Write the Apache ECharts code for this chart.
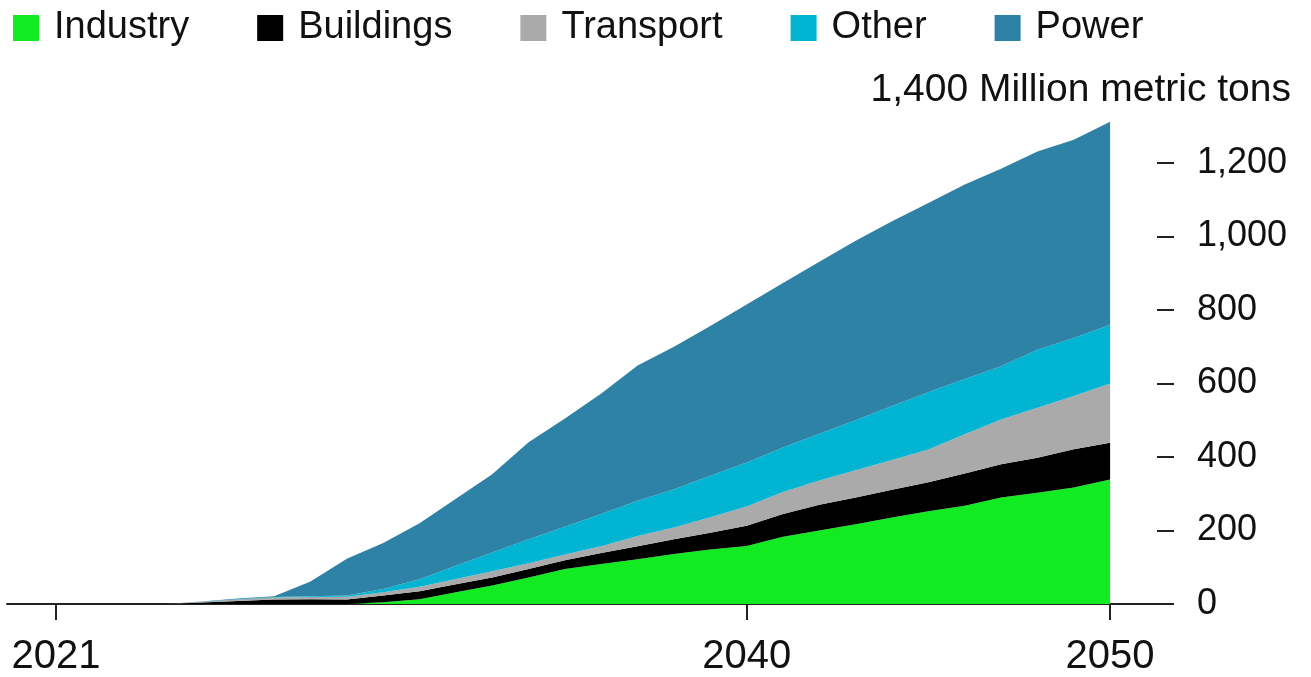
<!DOCTYPE html>
<html>
<head>
<meta charset="utf-8">
<script src="https://cdn.jsdelivr.net/npm/echarts@6/dist/echarts.min.js"></script>
<style>
	html, body { margin: 0; padding: 0; background: #fff; }
	#chart { width: 1311px; height: 677px; }
</style>
</head>
<body>
<div id="chart"></div>
<script>
// years 2021 .. 2050
const years = [
	2021, 2022, 2023, 2024, 2025, 2026, 2027, 2028, 2029, 2030,
	2031, 2032, 2033, 2034, 2035, 2036, 2037, 2038, 2039, 2040,
	2041, 2042, 2043, 2044, 2045, 2046, 2047, 2048, 2049, 2050
];
const industry = [0, 0, 0, 0, 0, 0, 0, 0, 0, 5, 13, 32, 50, 72, 95, 109, 122, 136, 148, 158, 183, 200, 217, 235, 252, 267, 290, 303, 317, 339];
const buildings = [0, 0, 0, 0, 4, 8, 12, 13, 12, 18, 22, 22, 22, 23, 24, 30, 35, 40, 46, 55, 62, 70, 73, 76, 79, 88, 90, 95, 104, 100];
const transport = [0, 0, 0, 0, 2, 4, 6, 6, 8, 9, 12, 14, 17, 16, 16, 18, 28, 32, 42, 52, 60, 66, 74, 81, 89, 107, 122, 136, 145, 161];
const other = [0, 0, 0, 0, 0, 1, 1, 2, 3, 9, 20, 36, 51, 65, 75, 88, 96, 104, 113, 120, 121, 127, 136, 147, 156, 150, 145, 158, 158, 160];
const power = [0, 0, 0, 0, 1, 2, 2, 40, 100, 125, 153, 182, 213, 264, 295, 328, 368, 388, 407, 430, 447, 468, 488, 502, 515, 529, 537, 539, 539, 552];

const xTicks = [2021, 2040, 2050];
const yTicks = [0, 200, 400, 600, 800, 1000, 1200];

const FONT = '"Liberation Sans", Arial, sans-serif';

const seriesDefs = [
	{ name: 'Industry', values: industry, color: '#12eb22' },
	{ name: 'Buildings', values: buildings, color: '#000000' },
	{ name: 'Transport', values: transport, color: '#aaaaaa' },
	{ name: 'Other', values: other, color: '#00b4d2' },
	{ name: 'Power', values: power, color: '#2e82a5' }
];

const chart = echarts.init(document.getElementById('chart'));
chart.setOption({
	animation: false,
	color: seriesDefs.map((s) => s.color),
	legend: {
		left: 8,
		top: 4,
		icon: 'rect',
		itemWidth: 26,
		itemHeight: 26,
		itemGap: 68,
		textStyle: {
			fontFamily: FONT,
			fontSize: 38,
			color: '#111',
			padding: [0, 0, 0, 10]
		},
		data: seriesDefs.map((s) => s.name)
	},
	grid: {
		left: 7,
		right: 154,
		top: 89.4,
		bottom: 72
	},
	xAxis: {
		type: 'value',
		min: 2019.65,
		max: 2051.29,
		splitLine: { show: false },
		axisLine: {
			lineStyle: { color: '#222', width: 2 }
		},
		axisTick: {
			customValues: xTicks,
			length: 16,
			lineStyle: { color: '#222', width: 2 }
		},
		axisLabel: {
			customValues: xTicks,
			margin: 33,
			fontFamily: FONT,
			fontSize: 40,
			color: '#111',
			formatter: (v) => String(v)
		}
	},
	yAxis: {
		type: 'value',
		position: 'right',
		min: 0,
		max: 1400,
		interval: 200,
		splitLine: { show: false },
		axisLine: { show: false },
		axisTick: {
			show: true,
			customValues: yTicks,
			length: 17,
			lineStyle: { color: '#222', width: 2 }
		},
		axisLabel: {
			customValues: yTicks,
			margin: 40,
			fontFamily: FONT,
			fontSize: 36,
			color: '#111',
			formatter: (v) => v.toLocaleString('en-US')
		}
	},
	graphic: [
		{
			type: 'text',
			right: 20,
			top: 71,
			style: {
				text: '1,400 Million metric tons',
				fontFamily: FONT,
				fontSize: 39,
				fill: '#111'
			}
		}
	],
	// value first so the stack runs on y, year second
	series: seriesDefs.map((s) => ({
		name: s.name,
		type: 'line',
		stack: 'total',
		showSymbol: false,
		symbol: 'none',
		lineStyle: { width: 0 },
		areaStyle: { color: s.color, opacity: 1 },
		encode: { x: 1, y: 0 },
		data: years.map((y, i) => [s.values[i], y])
	}))
});
</script>
</body>
</html>
